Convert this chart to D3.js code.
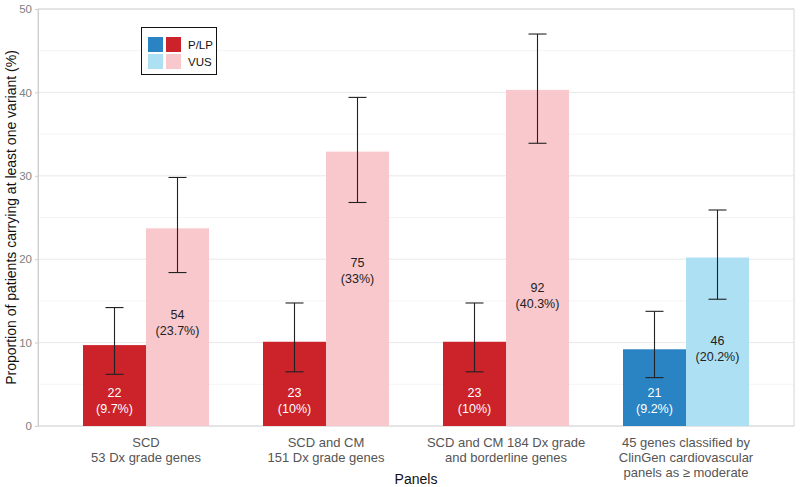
<!DOCTYPE html>
<html><head><meta charset="utf-8">
<script src="https://cdn.jsdelivr.net/npm/d3@7"></script>
<style>body{margin:0;background:#fff;} svg{display:block;font-family:"Liberation Sans",Arial,sans-serif;}</style>
</head><body><svg id="c" width="800" height="487"></svg>
<script>
const panels = [
  ["SCD", "53 Dx grade genes"],
  ["SCD and CM", "151 Dx grade genes"],
  ["SCD and CM 184 Dx grade", "and borderline genes"],
  ["45 genes classified by", "ClinGen cardiovascular", "panels as \u2265 moderate"]
];
const plpValues = [9.7, 10.1, 10.1, 9.2];
const plpLow = [6.2, 6.5, 6.5, 5.8];
const plpHigh = [14.2, 14.75, 14.75, 13.75];
const plpCounts = [22, 23, 23, 21];
const plpPct = ["9.7%", "10%", "10%", "9.2%"];
const plpLabelAt = [3.0, 3.0, 3.0, 3.0];
const vusValues = [23.7, 32.9, 40.3, 20.2];
const vusLow = [18.4, 26.8, 33.9, 15.2];
const vusHigh = [29.8, 39.4, 47.0, 25.9];
const vusCounts = [54, 75, 92, 46];
const vusPct = ["23.7%", "33%", "40.3%", "20.2%"];
const vusLabelAt = [12.3, 18.6, 15.6, 9.2];
const yTicks = [0, 10, 20, 30, 40, 50];
const legendLabels = ["P/LP", "VUS"];

const colPLP = ["#cc2229", "#cc2229", "#cc2229", "#2a84c4"];
const colVUS = ["#f8c8cc", "#f8c8cc", "#f8c8cc", "#aee0f4"];

const svg = d3.select("#c");
const L = 38, R = 794, T = 9, B = 426;
const x = d3.scaleLinear().domain([0.4, panels.length + 0.6]).range([L, R]);
const y = d3.scaleLinear().domain([0, 50]).range([B, T]);
const bw = 0.35;

// grid
const g = svg.append("g");
g.selectAll(".minor").data(d3.range(5, 50, 10)).join("line")
  .attr("x1", L).attr("x2", R).attr("y1", d => y(d)).attr("y2", d => y(d))
  .attr("stroke", "#f4f4f4").attr("stroke-width", 1);
g.selectAll(".major").data(yTicks).join("line")
  .attr("x1", L).attr("x2", R).attr("y1", d => y(d)).attr("y2", d => y(d))
  .attr("stroke", "#e8e8e8").attr("stroke-width", 1);
// panel border
svg.append("rect").attr("x", L).attr("y", T).attr("width", R - L).attr("height", B - T)
  .attr("fill", "none").attr("stroke", "#d6d6d6").attr("stroke-width", 1);

const idx = d3.range(panels.length);
// bars
svg.selectAll(".plp").data(idx).join("rect")
  .attr("x", i => x(i + 1 - bw)).attr("width", i => x(i + 1) - x(i + 1 - bw))
  .attr("y", i => y(plpValues[i])).attr("height", i => y(0) - y(plpValues[i]))
  .attr("fill", i => colPLP[i]);
svg.selectAll(".vus").data(idx).join("rect")
  .attr("x", i => x(i + 1)).attr("width", i => x(i + 1 + bw) - x(i + 1))
  .attr("y", i => y(vusValues[i])).attr("height", i => y(0) - y(vusValues[i]))
  .attr("fill", i => colVUS[i]);

// error bars
function errbar(cx, lo, hi) {
  const eg = svg.append("g").attr("stroke", "#222").attr("stroke-width", 1.1);
  const hw = 9;
  eg.append("line").attr("x1", cx).attr("x2", cx).attr("y1", y(lo)).attr("y2", y(hi));
  eg.append("line").attr("x1", cx - hw).attr("x2", cx + hw).attr("y1", y(lo)).attr("y2", y(lo));
  eg.append("line").attr("x1", cx - hw).attr("x2", cx + hw).attr("y1", y(hi)).attr("y2", y(hi));
}
idx.forEach(i => {
  errbar(x(i + 1 - bw / 2), plpLow[i], plpHigh[i]);
  errbar(x(i + 1 + bw / 2), vusLow[i], vusHigh[i]);
});

// bar labels
function barLabel(cx, at, count, pct, color) {
  const t = svg.append("text").attr("text-anchor", "middle").attr("font-size", 12.5)
    .attr("font-family", "'Liberation Sans Narrow','Arial Narrow','Liberation Sans',sans-serif")
    .attr("fill", color);
  t.append("tspan").attr("x", cx).attr("y", y(at) - 4).text(count);
  t.append("tspan").attr("x", cx).attr("y", y(at) + 12).text("(" + pct + ")");
}
idx.forEach(i => {
  barLabel(x(i + 1 - bw / 2), plpLabelAt[i], plpCounts[i], plpPct[i], "#ffffff");
  barLabel(x(i + 1 + bw / 2), vusLabelAt[i], vusCounts[i], vusPct[i], "#222");
});

// y axis
const yAxis = svg.append("g").attr("transform", `translate(${L},0)`)
  .call(d3.axisLeft(y).tickValues(yTicks).tickSize(3).tickPadding(3));
yAxis.select(".domain").attr("stroke", "#cfcfcf");
yAxis.selectAll(".tick line").attr("stroke", "#cfcfcf");
yAxis.selectAll("text").attr("fill", "#808080").attr("font-size", 11.5)
  .attr("font-family", "Liberation Sans, Arial, sans-serif");

// x labels
idx.forEach(i => {
  const t = svg.append("text").attr("text-anchor", "middle").attr("font-size", 13)
    .attr("fill", "#555");
  panels[i].forEach((ln, j) => {
    t.append("tspan").attr("x", x(i + 1)).attr("y", 447 + j * 15).text(ln);
  });
});

// axis titles
svg.append("text").attr("x", (L + R) / 2).attr("y", 484).attr("text-anchor", "middle")
  .attr("font-size", 14).attr("fill", "#111").text("Panels");
svg.append("text").attr("transform", `translate(16,${(T + B) / 2}) rotate(-90)`)
  .attr("text-anchor", "middle").attr("font-size", 14).attr("fill", "#111")
  .text("Proportion of patients carrying at least one variant (%)");

// legend
const lg = svg.append("g");
lg.append("rect").attr("x", 141.5).attr("y", 27.5).attr("width", 75).attr("height", 47)
  .attr("fill", "#fff").attr("stroke", "#111").attr("stroke-width", 1);
const legendCols = [[colPLP[3], colPLP[0]], [colVUS[3], colVUS[0]]];
legendLabels.forEach((lab, r) => {
  legendCols[r].forEach((c, k) => {
    lg.append("rect").attr("x", 148 + k * 18).attr("y", 37 + r * 17).attr("width", 15).attr("height", 15).attr("fill", c);
  });
  lg.append("text").attr("x", 188).attr("y", 49 + r * 17).attr("font-size", 11.5).attr("fill", "#111").text(lab);
});
</script></body></html>
